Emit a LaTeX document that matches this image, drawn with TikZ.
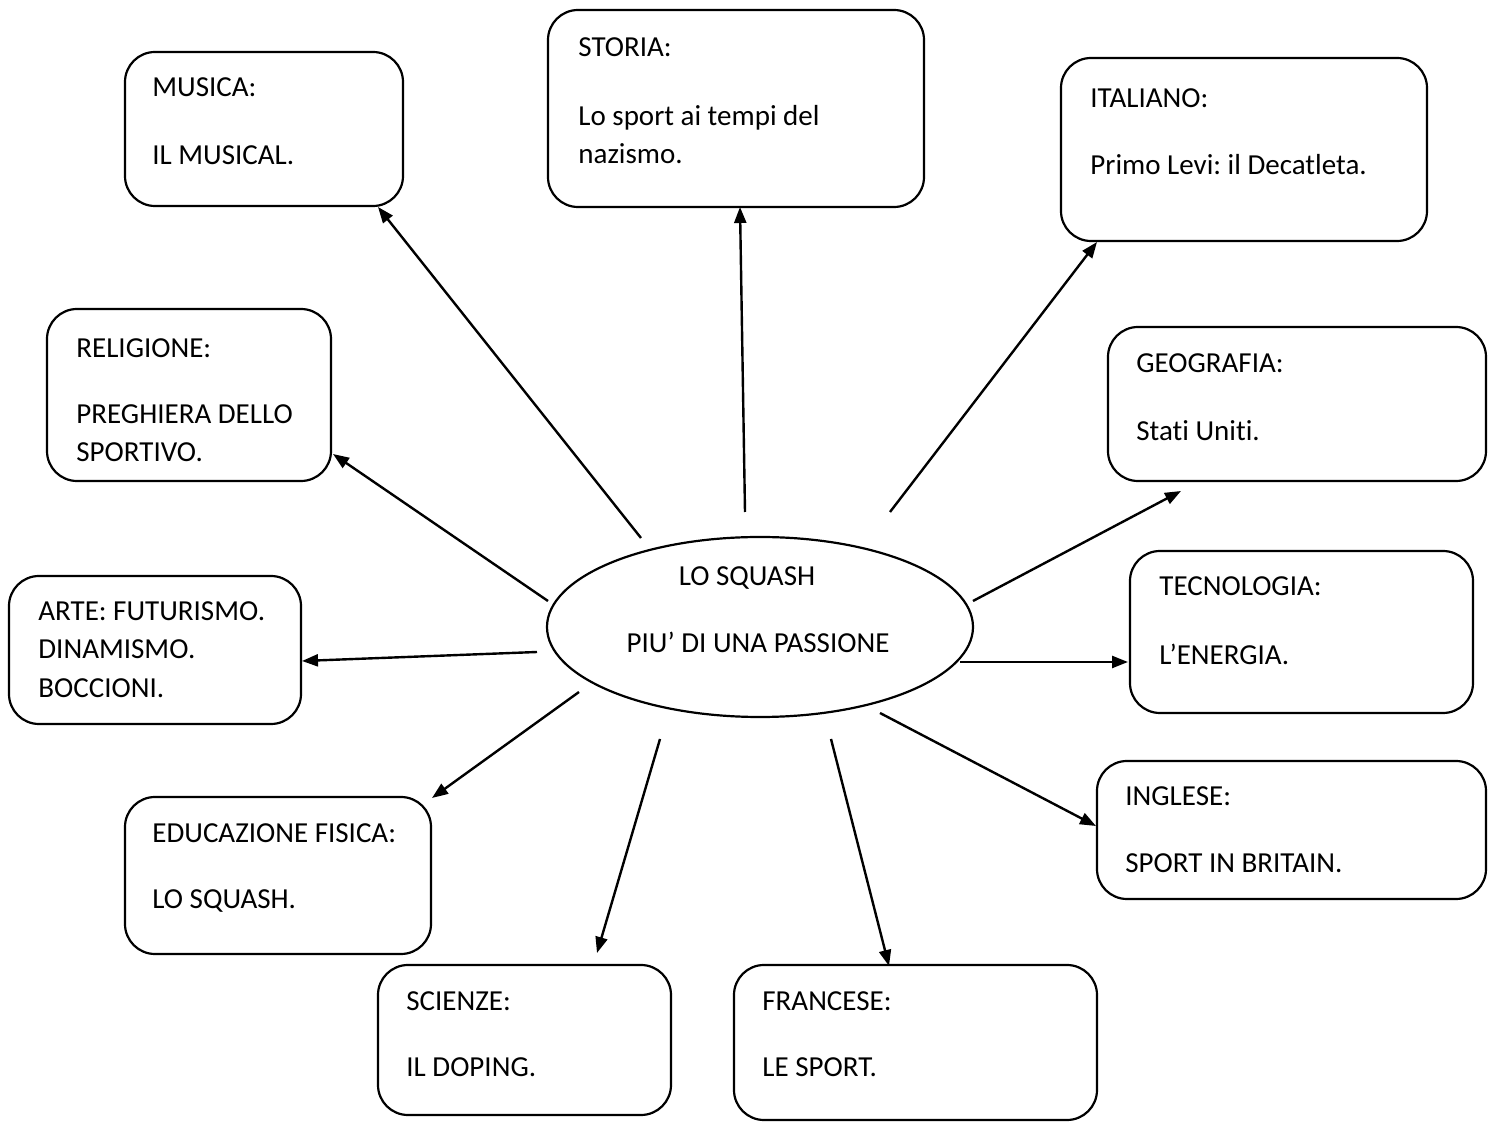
\documentclass[tikz,border=0pt]{standalone}
\usepackage{fontspec}
\setmainfont{Carlito}[Ligatures=NoCommon]
\frenchspacing
\usetikzlibrary{arrows.meta,shapes.geometric,fit}
\begin{document}
\begin{tikzpicture}[x=0.5pt,y=-0.5pt,
  box/.style={draw,line width=1.1pt,rounded corners=15pt,inner sep=0pt},
  lbl/.style={anchor=base west,inner sep=0pt,font=\fontsize{14.5}{17}\selectfont},
  ctr/.style={anchor=base,inner sep=0pt,font=\fontsize{14.5}{17}\selectfont},
  arr/.style={line width=1.2pt,-{Triangle[length=8pt,width=6pt]}}]
\useasboundingbox (0,0) rectangle (1501,1122);
% boxes
\node[box,fit={(125,52) (403,206)}] (mus) {};
\node[box,fit={(548,10) (924,207)}] (sto) {};
\node[box,fit={(1061,58) (1427,241)}] (ita) {};
\node[box,fit={(47,309) (331,481)}] (rel) {};
\node[box,fit={(1108,327) (1486,481)}] (geo) {};
\node[box,fit={(9,576) (301,724)}] (art) {};
\node[box,fit={(1130,551) (1473,713)}] (tec) {};
\node[box,fit={(125,797) (431,954)}] (edu) {};
\node[box,fit={(1097,761) (1486,899)}] (ing) {};
\node[box,fit={(378,965) (671,1115)}] (sci) {};
\node[box,fit={(734,965) (1097,1120)}] (fra) {};
\node[draw,line width=1.1pt,ellipse,inner sep=0pt,minimum width=213pt,minimum height=90pt] (c) at (760,627) {};
% texts
\node[lbl] (t1) at (152,97) {MUSICA:};
\node[lbl] (t2) at (152,165) {IL MUSICAL.};
\node[lbl] (t3) at (578,57) {STORIA:};
\node[lbl] (t4) at (578,126) {Lo sport ai tempi del};
\node[lbl] (t5) at (578,164) {nazismo.};
\node[lbl] (t6) at (1090,108) {ITALIANO:};
\node[lbl] (t7) at (1090,175) {Primo Levi: il Decatleta.};
\node[lbl] (t8) at (76,358) {RELIGIONE:};
\node[lbl] (t9) at (76,424) {PREGHIERA DELLO};
\node[lbl] (t10) at (76,462) {SPORTIVO.};
\node[lbl] (t11) at (1136,373) {GEOGRAFIA:};
\node[lbl] (t12) at (1136,441) {Stati Uniti.};
\node[lbl] (t13) at (38,621) {ARTE: FUTURISMO.};
\node[lbl] (t14) at (38,659) {DINAMISMO.};
\node[lbl] (t15) at (38,698) {BOCCIONI.};
\node[lbl] (t16) at (1159,596) {TECNOLOGIA:};
\node[lbl] (t17) at (1159,665) {L’ENERGIA.};
\node[lbl] (t18) at (152,843) {EDUCAZIONE FISICA:};
\node[lbl] (t19) at (152,909) {LO SQUASH.};
\node[lbl] (t20) at (1125,806) {INGLESE:};
\node[lbl] (t21) at (1125,873) {SPORT IN BRITAIN.};
\node[lbl] (t22) at (406,1010) {SCIENZE:};
\node[lbl] (t23) at (406,1076) {IL DOPING.};
\node[lbl] (t24) at (762,1010) {FRANCESE:};
\node[lbl] (t25) at (762,1076) {LE SPORT.};
\node[ctr] (t26) at (747,586) {LO SQUASH};
\node[ctr] (t27) at (758,653) {PIU’ DI UNA PASSIONE};
% arrow endpoints
\coordinate (s1) at (641,538); \coordinate (e1) at (378,207);
\coordinate (s2) at (745,512); \coordinate (e2) at (740,207);
\coordinate (s3) at (890,512); \coordinate (e3) at (1097,242);
\coordinate (s4) at (548,601); \coordinate (e4) at (333,454);
\coordinate (s5) at (973,601); \coordinate (e5) at (1181,491);
\coordinate (s6) at (537,652); \coordinate (e6) at (302,661);
\coordinate (s7) at (960,662); \coordinate (e7) at (1128,662);
\coordinate (s8) at (579,692); \coordinate (e8) at (432,798);
\coordinate (s9) at (660,739); \coordinate (e9) at (597,953);
\coordinate (s10) at (831,739); \coordinate (e10) at (889,966);
\coordinate (s11) at (880,713); \coordinate (e11) at (1096,826);
\foreach \i in {1,...,11} \draw[arr] (s\i) -- (e\i);
\end{tikzpicture}
\end{document}
